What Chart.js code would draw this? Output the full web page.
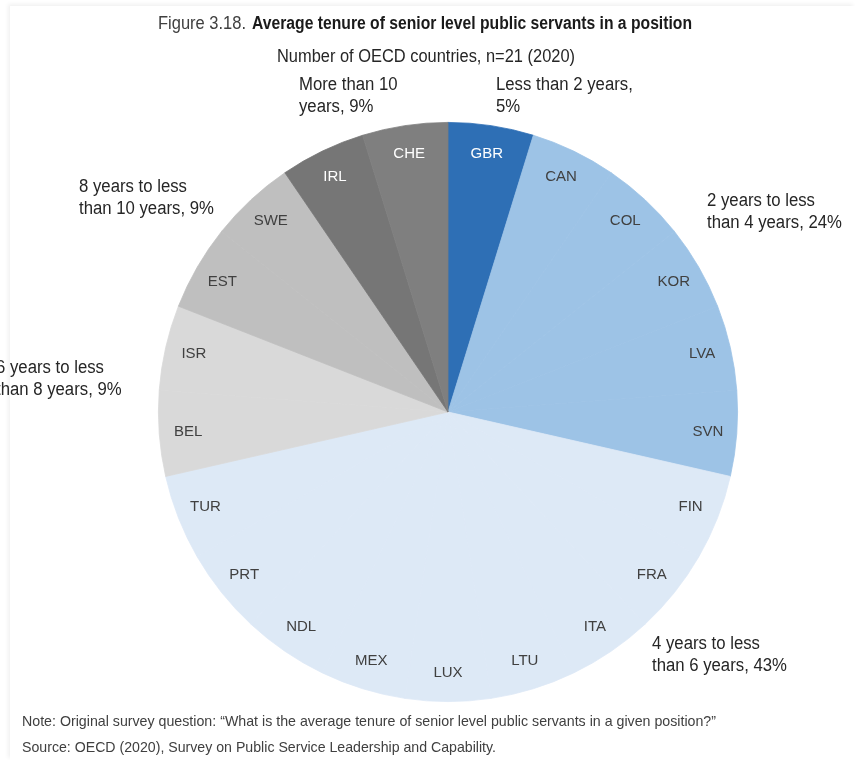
<!DOCTYPE html>
<html>
<head>
<meta charset="utf-8">
<script src="https://cdn.jsdelivr.net/npm/chart.js@4"></script>
<style>
  html, body { margin: 0; padding: 0; background: #ffffff; }
  #wrap { position: relative; width: 855px; height: 760px; }
  #frame { position: absolute; left: 10px; top: 6px; right: 0; bottom: 0;
           box-shadow: -2px -2px 4px rgba(0,0,0,0.06); }
  canvas { position: absolute; left: 0; top: 0; }
</style>
</head>
<body>
<div id="wrap">
  <div id="frame"></div>
  <canvas id="pie" width="855" height="760"></canvas>
</div>
<script>
/* Countries in clockwise order from 12 o'clock, one slice each */
var countries = ['GBR', 'CAN', 'COL', 'KOR', 'LVA', 'SVN', 'FIN', 'FRA', 'ITA', 'LTU',
                 'LUX', 'MEX', 'NDL', 'PRT', 'TUR', 'BEL', 'ISR', 'EST', 'SWE', 'IRL', 'CHE'];
var countryValues = [1, 1, 1, 1, 1, 1, 1, 1, 1, 1, 1, 1, 1, 1, 1, 1, 1, 1, 1, 1, 1];
/* index of the tenure group each country belongs to */
var countryGroup = [0, 1, 1, 1, 1, 1, 2, 2, 2, 2, 2, 2, 2, 2, 2, 3, 3, 4, 4, 5, 5];

var groupNames = ['Less than 2 years', '2 years to less than 4 years', '4 years to less than 6 years',
                  '6 years to less than 8 years', '8 years to less than 10 years', 'More than 10 years'];
var groupShares = [5, 24, 43, 9, 9, 9];
/* how the group label breaks over lines */
var groupLines = [
  ['Less than 2 years,', '5%'],
  ['2 years to less', 'than 4 years, 24%'],
  ['4 years to less', 'than 6 years, 43%'],
  ['6 years to less', 'than 8 years, 9%'],
  ['8 years to less', 'than 10 years, 9%'],
  ['More than 10', 'years, 9%']
];

/* Colours of each group and of the text sitting on it */
var groupColors = ['#2e6fb5', '#9dc3e6', '#dde9f6', '#d9d9d9', '#bfbfbf', '#7f7f7f'];
var groupTextColors = ['#ffffff', '#404040', '#404040', '#404040', '#404040', '#ffffff'];

/* Where the outside group labels sit, relative to the pie centre (left edge, first line) */
var groupLabelOffsets = [
  [48, -327], [259, -211], [204, 232], [-452, -44], [-369, -225], [-149, -327]
];

var FONT = '"Liberation Sans", Arial, sans-serif';
var CONDENSE = 0.93;   // the source uses a narrow face; squeeze the regular one

function getCountryColors() {
  return countryGroup.map(function (g, i) {
    if (countries[i] === 'IRL') return '#767676';
    return groupColors[g];
  });
}

/* draw text left-aligned, squeezed horizontally by a factor or to a given width */
function squeezeText(ctx, text, x, y, factor, width) {
  var w = ctx.measureText(text).width;
  var sx = width ? width / w : factor;
  ctx.save();
  ctx.translate(x, y);
  ctx.scale(sx, 1);
  ctx.fillText(text, 0, 0);
  ctx.restore();
}

/* Draw the titles, the country names inside the slices and the group labels outside */
var labelPlugin = {
  id: 'pieLabels',
  afterDraw: function (chart) {
    var ctx = chart.ctx;
    var arcs = chart.getDatasetMeta(0).data;
    var cx = arcs[0].x, cy = arcs[0].y, r = arcs[0].outerRadius;

    ctx.save();
    ctx.textBaseline = 'middle';
    ctx.textAlign = 'left';

    // title: regular figure number then bold title
    ctx.font = '18px ' + FONT;
    ctx.fillStyle = '#404040';
    squeezeText(ctx, 'Figure 3.18.', 158, 24, 0, 88);
    ctx.font = 'bold 18px ' + FONT;
    ctx.fillStyle = '#1a1a1a';
    squeezeText(ctx, 'Average tenure of senior level public servants in a position', 252, 24, 0, 440);

    ctx.font = '18px ' + FONT;
    ctx.fillStyle = '#262626';
    squeezeText(ctx, 'Number of OECD countries, n=21 (2020)', 277, 57, 0, 298);

    // country names
    ctx.textAlign = 'center';
    ctx.font = '15px ' + FONT;
    arcs.forEach(function (arc, i) {
      var mid = (arc.startAngle + arc.endAngle) / 2;
      var rr = r * 0.9;
      ctx.fillStyle = groupTextColors[countryGroup[i]];
      ctx.fillText(countries[i], cx + Math.cos(mid) * rr, cy + Math.sin(mid) * rr);
    });

    // group labels
    ctx.textAlign = 'left';
    ctx.font = '18px ' + FONT;
    ctx.fillStyle = '#262626';
    groupLines.forEach(function (lines, g) {
      var off = groupLabelOffsets[g];
      lines.forEach(function (line, k) {
        squeezeText(ctx, line, cx + off[0], cy + off[1] + k * 22, CONDENSE);
      });
    });

    // notes
    ctx.font = '15px ' + FONT;
    ctx.fillStyle = '#404040';
    squeezeText(ctx, 'Note: Original survey question: \u201CWhat is the average tenure of senior level public servants in a given position?\u201D', 22, 722, 0, 694);
    squeezeText(ctx, 'Source: OECD (2020), Survey on Public Service Leadership and Capability.', 22, 748, 0, 474);
    ctx.restore();
  }
};

function createTenureChart(canvasid) {
  var ctx = document.getElementById(canvasid).getContext('2d');
  var colors = getCountryColors();
  var myChart = new Chart(ctx, {
    type: 'pie',
    data: {
      labels: countries,
      datasets: [{
        label: 'Countries',
        data: countryValues,
        backgroundColor: colors,
        borderColor: colors,
        borderWidth: 0.8
      }]
    },
    options: {
      responsive: false,
      animation: false,
      devicePixelRatio: 1,
      layout: { padding: { top: 122, bottom: 58, left: 158, right: 117 } },
      plugins: {
        legend: { display: false },
        tooltip: { enabled: false }
      }
    },
    plugins: [labelPlugin]
  });
}

createTenureChart('pie');
</script>
</body>
</html>
